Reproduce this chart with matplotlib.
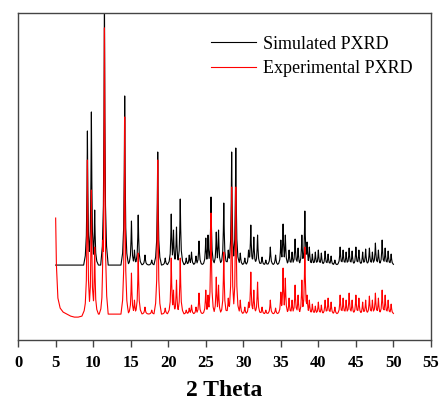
import matplotlib.pyplot as plt
import numpy as np

# Simulated PXRD: peak positions (2 theta) and heights (chart units, top of axes = 327)
sim_pos = [9.23, 9.76, 10.2, 11.5, 14.2, 15.1, 15.5, 16.0, 16.9, 17.8, 18.6, 19.6, 20.4, 20.7, 21.1, 21.6,
           22.4, 22.8, 23.1, 23.7, 24.1, 25.0, 25.3, 25.7, 26.4, 26.7, 27.4, 28.0, 28.45, 29.0, 29.6, 30.2,
           30.7, 31.0, 31.4, 31.9, 32.5, 33.0, 33.6, 34.3, 35.0, 35.3, 35.6, 36.1, 36.5, 36.9, 37.3, 37.8,
           38.2, 38.5, 38.8, 39.2, 39.6, 40.0, 40.4, 40.9, 41.3, 41.7, 42.2, 42.9, 43.3, 43.7, 44.1, 44.5,
           45.0, 45.4, 45.9, 46.3, 46.8, 47.2, 47.6, 48.0, 48.5, 48.9, 49.3, 49.7]
sim_int = [209, 228, 130, 345, 244, 119, 90, 125, 85, 80, 188, 82, 126, 110, 113, 141,
           82, 85, 88, 84, 99, 102, 105, 143, 108, 110, 137, 90, 188, 192, 87, 82,
           90, 115, 103, 105, 83, 80, 93, 85, 100, 116, 105, 90, 88, 101, 92, 105,
           129, 98, 93, 86, 88, 90, 87, 89, 86, 84, 80, 93, 90, 88, 92, 89,
           93, 90, 88, 91, 92, 88, 97, 90, 100, 92, 89, 86]
sim_base = 75
sim_start, sim_end = 5.0, 50.0

# Experimental PXRD
exp_pos = [9.23, 9.76, 10.2, 11.3, 11.5, 14.2, 15.1, 15.5, 16.0, 16.9, 17.8, 18.6, 19.6, 20.4, 20.7, 21.1, 21.6,
           22.4, 22.8, 23.1, 23.7, 24.1, 25.0, 25.3, 25.7, 26.4, 26.7, 27.4, 28.0, 28.45, 29.0, 29.6, 30.2,
           30.7, 31.0, 31.4, 31.9, 32.5, 33.0, 33.6, 34.3, 35.0, 35.3, 35.6, 36.1, 36.5, 36.9, 37.3, 37.8,
           38.2, 38.5, 38.8, 39.2, 39.6, 40.0, 40.4, 40.9, 41.3, 41.7, 42.2, 42.9, 43.3, 43.7, 44.1, 44.5,
           45.0, 45.4, 45.9, 46.3, 46.8, 47.2, 47.6, 48.0, 48.5, 48.9, 49.3, 49.7]
exp_int = [180, 150, 93, 100, 312, 223, 67, 40, 87, 33, 30, 180, 32, 82, 50, 60, 82,
           30, 32, 35, 33, 47, 50, 45, 127, 63, 55, 88, 42, 153, 153, 40, 33,
           38, 68, 50, 58, 33, 30, 40, 32, 48, 72, 62, 42, 40, 55, 45, 60,
           93, 45, 40, 36, 34, 38, 35, 40, 42, 38, 33, 45, 42, 40, 47, 40,
           45, 42, 38, 40, 44, 40, 47, 42, 50, 45, 40, 36]
exp_base = 26
# leading edge of the experimental scan
exp_head_x = [5.0, 5.1, 5.3, 5.6, 6.0, 6.5, 7.0, 7.5, 8.0, 8.5, 8.8]
exp_head_y = [122, 75, 42, 32, 28, 26, 24, 23, 23, 24, 25]
exp_end = 50.0

xticks = list(range(0, 60, 5))

# relative shape of one peak (offset in 2 theta, fraction of peak height)
shape_dx = [-0.5, -0.28, -0.14, -0.06, 0.0, 0.06, 0.14, 0.28, 0.5]
shape_fr = [0.0, 0.07, 0.22, 0.55, 1.0, 0.55, 0.22, 0.07, 0.0]


def profile(pos, heights, base, x0, x1):
    xs = sorted(set([x0, x1] + [p + d for p in pos for d in shape_dx]))
    xs = np.array([x for x in xs if x0 <= x <= x1])
    ys = np.full(len(xs), float(base))
    for p, h in zip(pos, heights):
        one = base + (h - base) * np.interp(xs, [p + d for d in shape_dx], shape_fr, left=0, right=0)
        ys = np.maximum(ys, one)
    return xs, ys


fig = plt.figure(figsize=(4.42, 4.03), dpi=100)
ax = fig.add_axes([0.041, 0.156, 0.934, 0.812])

sx, sy = profile(sim_pos, sim_int, sim_base, sim_start, sim_end)
ax.plot(sx, sy, color='black', lw=0.8, label='Simulated PXRD')

ex, ey = profile(exp_pos, exp_int, exp_base, exp_head_x[-1], exp_end)
ex = np.concatenate([exp_head_x[:-1], ex])
ey = np.concatenate([exp_head_y[:-1], ey])
ax.plot(ex, ey, color='#ff0000', lw=0.8, label='Experimental PXRD')

ax.set_xlim(0, 55)
ax.set_ylim(0, 327)
ax.set_xticks(xticks)
ax.set_yticks([])
ax.tick_params(axis='x', direction='out', length=5, width=1, color='#444444', pad=6)
for lab in ax.get_xticklabels():
    lab.set_fontfamily('Liberation Serif')
    lab.set_fontweight('bold')
    lab.set_fontsize(12)
for s in ax.spines.values():
    s.set_color('#444444')
    s.set_linewidth(1)
ax.set_xlabel('2 Theta', fontfamily='Liberation Serif', fontweight='bold', fontsize=17, labelpad=6)

leg = ax.legend(loc='upper left', bbox_to_anchor=(0.445, 0.958), frameon=False,
                prop={'family': 'Liberation Serif', 'size': 13}, handlelength=2.5,
                handletextpad=0.4, labelspacing=0.4, borderpad=0)

fig.savefig('out.png', dpi=100)
